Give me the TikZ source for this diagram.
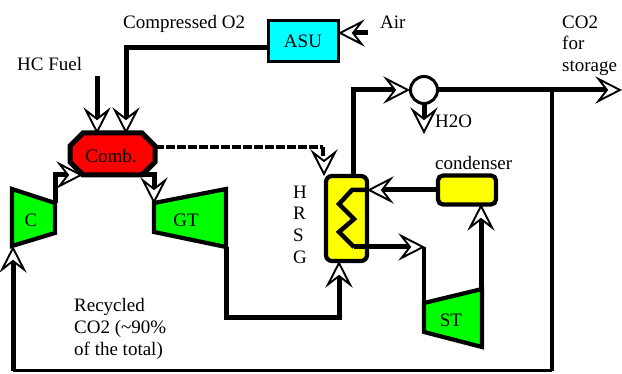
\documentclass[tikz,border=0pt]{standalone}
\usepackage{fontspec}
\setmainfont{Liberation Serif}
\definecolor{cgreen}{RGB}{0,255,0}
\definecolor{ccyan}{RGB}{0,255,255}
\definecolor{cyell}{RGB}{255,255,0}
\definecolor{cred}{RGB}{255,0,0}
\tikzset{
  headpic/.pic={\filldraw[draw=black,fill=white,line width=1.9pt,line join=miter] (-1,0) -- (-22.5,-11) -- (-14,0) -- (-22.5,11) -- cycle;},
  flow/.style={line width=5pt,line join=miter,shorten >=14pt},
  plainflow/.style={line width=4.2pt,line join=miter},
  equip/.style={draw=black,line width=4.2pt,line join=miter},
  lab/.style={font=\fontsize{19}{21}\selectfont,inner sep=0pt,anchor=base west,align=left},
  tag/.style={font=\fontsize{19}{21}\selectfont,inner sep=0pt,anchor=center},
  dotflow/.style={line width=4pt,dash pattern=on 8.5pt off 2.5pt},
}
\begin{document}
\begin{tikzpicture}[x=1pt,y=-1pt]
\useasboundingbox (0,0) rectangle (622,374);
% named points
\coordinate (o2a) at (267,48); \coordinate (o2b) at (126,48); \coordinate (o2c) at (126,133);
\coordinate (fa) at (97,76); \coordinate (fb) at (97,133);
\coordinate (aira) at (368,33); \coordinate (airb) at (339,33);
\coordinate (da) at (155,147); \coordinate (db) at (323,147); \coordinate (dc) at (324,175);
\coordinate (ha) at (353,175); \coordinate (hb) at (353,90); \coordinate (hc) at (409,90);
\coordinate (sa) at (438,90); \coordinate (sb) at (621,90);
\coordinate (wa) at (424,104); \coordinate (wb) at (424,133);
\coordinate (ra) at (552,90); \coordinate (rb) at (552,371); \coordinate (rc) at (13,371); \coordinate (rd) at (13,247);
\coordinate (ca) at (55,203); \coordinate (cb) at (55,175); \coordinate (cc) at (82,175);
\coordinate (ga) at (140,175); \coordinate (gb) at (154,175); \coordinate (gc) at (154,203);
\coordinate (ta) at (226,247); \coordinate (tb) at (226,318); \coordinate (tc) at (339,318); \coordinate (td) at (339,262);
\coordinate (za) at (437,190); \coordinate (zb) at (368,190);
\coordinate (ya) at (354,247); \coordinate (yb) at (424,247); \coordinate (yc) at (424,303);
\coordinate (xa) at (481,289); \coordinate (xb) at (481,205);
% equipment
\node[equip,fill=ccyan,minimum width=70pt,minimum height=41pt,inner sep=0pt,font=\fontsize{19}{21}\selectfont,line width=3pt] (asu) at (303,41) {ASU};
\filldraw[equip,fill=cred,line width=5pt] (83,133) -- (142,133) -- (155,146) -- (155,162) -- (142,175) -- (83,175) -- (70,162) -- (70,146) -- cycle;
\node[tag] (comb) at (111,156) {Comb.};
\filldraw[equip,fill=cgreen] (12,189) -- (55,203) -- (55,233) -- (12,246) -- cycle;
\node[tag] (c) at (31,220) {C};
\filldraw[equip,fill=cgreen] (154,203) -- (226,189) -- (226,247) -- (154,232) -- cycle;
\node[tag] (gt) at (186,220) {GT};
\filldraw[equip,fill=cgreen] (424,303) -- (482,289) -- (482,347) -- (424,332) -- cycle;
\node[tag] (st) at (451,320) {ST};
\node[equip,fill=cyell,rounded corners=6pt,minimum width=41pt,minimum height=85pt,inner sep=0pt] (hrsg) at (346.5,218.5) {};
\node[equip,fill=cyell,rounded corners=5pt,minimum width=58pt,minimum height=29pt,inner sep=0pt] (cond) at (467,190) {};
\node[draw=black,line width=3pt,fill=white,circle,minimum size=27pt,inner sep=0pt] (mix) at (424,90) {};
% connectors
\draw[flow] (o2a) -- (o2b) -- (o2c);
\draw[flow] (fa) -- (fb);
\draw[flow] (aira) -- (airb);
\draw[dotflow] (da) -- (db);
\draw[line width=4pt] (323,147) -- (323,156);
\draw[flow] (ha) -- (hb) -- (hc);
\draw[flow] (sa) -- (sb);
\draw[flow] (wa) -- (wb);
\draw[plainflow] (ra) -- (rb);
\draw[line width=3pt] (rb) -- (rc);
\draw[flow] (rc) -- (rd);
\draw[flow] (ca) -- (cb) -- (cc);
\draw[flow] (ga) -- (gb) -- (gc);
\draw[flow] (ta) -- (tb) -- (tc) -- (td);
\draw[flow] (za) -- (zb);
\draw[flow] (xa) -- (xb);
\draw[line width=4.5pt] (zb) -- (352,190) -- (339,204) -- (354,219) -- (339,232) -- (ya);
\draw[flow] (ya) -- (yb);
\draw[plainflow] (yb) -- (yc);
% arrowheads
\pic[rotate=-90] at (o2c) {headpic};
\pic[rotate=-90] at (fb) {headpic};
\pic[rotate=180] at (airb) {headpic};
\pic[rotate=-90] at (dc) {headpic};
\pic at (hc) {headpic};
\pic at (sb) {headpic};
\pic[rotate=-90] at (wb) {headpic};
\pic[rotate=90] at (rd) {headpic};
\pic at (cc) {headpic};
\pic[rotate=-90] at (gc) {headpic};
\pic[rotate=90] at (td) {headpic};
\pic[rotate=180] at (zb) {headpic};
\pic[rotate=90] at (xb) {headpic};
\pic at (yb) {headpic};
% labels
\node[lab] (l1) at (123,29) {Compressed O2};
\node[lab] (l2) at (17,71) {HC Fuel};
\node[lab] (l3) at (380,29) {Air};
\node[lab] (l4) at (562,29) {CO2};
\node[lab] (l5) at (562,50) {for};
\node[lab] (l6) at (562,72) {storage};
\node[lab] (l7) at (435,128) {H2O};
\node[lab] (l8) at (435,170) {condenser};
\node[lab] (l9) at (293,199) {H};
\node[lab] (l10) at (293,220) {R};
\node[lab] (l11) at (293,242) {S};
\node[lab] (l12) at (293,264) {G};
\node[lab] (l13) at (74,312) {Recycled};
\node[lab] (l14) at (74,334) {CO2 (\textasciitilde 90\%};
\node[lab] (l15) at (74,356) {of the total)};
\end{tikzpicture}
\end{document}
